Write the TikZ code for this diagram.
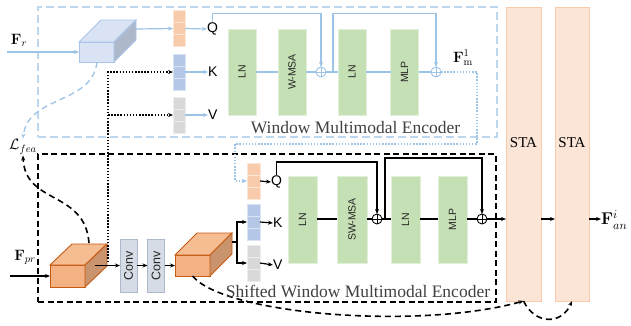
\RequirePackage{fix-cm}
\documentclass[tikz,border=0pt]{standalone}
\usepackage[no-math]{fontspec}
\setmainfont{Liberation Serif}
\setsansfont{Liberation Sans}
\usetikzlibrary{arrows.meta,calc}
\definecolor{lb}{HTML}{9DC3E6}
\definecolor{lbbox}{HTML}{BDD7EE}
\definecolor{qfill}{HTML}{F8CBAD}
\definecolor{qdraw}{HTML}{FBE5D6}
\definecolor{kfill}{HTML}{B4C7E7}
\definecolor{kdraw}{HTML}{DAE3F3}
\definecolor{vfill}{HTML}{D9D9D9}
\definecolor{vdraw}{HTML}{EDEDED}
\definecolor{gfill}{HTML}{C5E0B4}
\definecolor{gdraw}{HTML}{E2F0D9}
\definecolor{convfill}{HTML}{D6DCE5}
\definecolor{convdraw}{HTML}{ADB9CA}
\definecolor{stafill}{HTML}{FBE5D6}
\definecolor{stadraw}{HTML}{F8CBAD}
\definecolor{cbfront}{HTML}{DAE3F3}
\definecolor{cbside}{HTML}{ADB9CA}
\definecolor{cbdraw}{HTML}{A9C4EB}
\definecolor{cofront}{HTML}{F4B183}
\definecolor{cotop}{HTML}{F6BC92}
\definecolor{coside}{HTML}{C9936D}
\definecolor{codraw}{HTML}{C55A11}
\definecolor{txtgray}{HTML}{404040}
\begin{document}
\begin{tikzpicture}[x=1pt,y=-1pt,
  tip/.style={-{Stealth[length=5pt,width=4pt]}},
  blueln/.style={draw=lb, line width=1.2pt},
  blackln/.style={draw=black, line width=1.2pt},
  bdotted/.style={line width=1.4pt, dash pattern=on 1.5pt off 1.6pt},
  bdashed/.style={line width=1.6pt, dash pattern=on 6pt off 4pt},
  cell/.style={minimum width=12pt, minimum height=12pt, inner sep=0pt, outer sep=0pt, line width=0.8pt},
  qcell/.style={cell, fill=qfill, draw=qdraw},
  kcell/.style={cell, fill=kfill, draw=kdraw},
  vcell/.style={cell, fill=vfill, draw=vdraw},
  qkv/.style={anchor=west, inner sep=0pt, font=\sffamily\fontsize{14}{15}\selectfont},
  greenbox/.style={fill=gfill, draw=gdraw, line width=0.8pt, inner sep=0pt, outer sep=0pt,
    minimum width=28pt, minimum height=86pt, font=\sffamily\fontsize{10.5}{12}\selectfont, text=black!85},
  convbox/.style={fill=convfill, draw=convdraw, line width=0.8pt, inner sep=0pt, outer sep=0pt,
    minimum width=17pt, minimum height=53pt, font=\sffamily\fontsize{12.5}{14}\selectfont, text=black!85},
  oplus/.style={circle, draw=#1, fill=white, line width=0.9pt, minimum size=10pt, inner sep=0pt, outer sep=0pt,
    path picture={\draw[#1, line width=0.9pt] (path picture bounding box.north) -- (path picture bounding box.south)
      (path picture bounding box.west) -- (path picture bounding box.east);}},
  stabox/.style={fill=stafill, draw=stadraw, line width=0.8pt, inner sep=0pt, outer sep=0pt, minimum height=294pt},
  statext/.style={font=\fontsize{15}{17}\selectfont},
  enctext/.style={font=\fontsize{17.5}{20}\selectfont, text=txtgray, inner sep=0pt},
  mathlbl/.style={font=\fontsize{15}{17}\selectfont, inner sep=1pt},
  bluecube/.style={fill=cbfront, draw=cbdraw, line width=0.8pt, inner sep=0pt, outer sep=0pt, minimum width=35pt, minimum height=20pt},
  orangecube/.style={fill=cofront, draw=codraw, line width=0.9pt, inner sep=0pt, outer sep=0pt, minimum width=35pt},
]
\useasboundingbox (0,0) rectangle (631,325);

% encoder frames
\node[draw=lbbox, line width=2.2pt, dash pattern=on 8pt off 4pt, minimum width=459pt, minimum height=130pt, inner sep=0pt] (encA) at (267.5,72) {};
\node[draw=black, line width=2.2pt, dash pattern=on 6pt off 3.5pt, minimum width=458pt, minimum height=148pt, inner sep=0pt] (encB) at (267,228) {};

% STA blocks
\node[stabox, minimum width=35pt] (sta1) at (523.5,154) {};
\node[stabox, minimum width=34pt] (sta2) at (572,154) {};
\node[statext] (sta1t) at (523.5,143) {STA};
\node[statext] (sta2t) at (572,143) {STA};

% ---------- top encoder ----------
\node[bluecube] (c1) at (96.5,52) {};
\draw[draw=cbdraw, fill=cbfront, line width=0.8pt] (c1.north west) -- ++(22,-22) -- ++(35,0) -- (c1.north east) -- cycle;
\draw[draw=cbdraw, fill=cbside, line width=0.8pt] (c1.north east) -- ++(22,-22) -- ++(0,20) -- (c1.south east) -- cycle;
\coordinate (frs) at (7,52);
\coordinate (c1r) at (136,29);
\coordinate (c1b) at (97,62);
\node[mathlbl] (Fr) at (19,40) {$\mathbf{F}_r$};
\draw[blueln, tip] (frs) -- (c1.west);

\node[qcell] (qt1) at (179,16.5) {};
\node[qcell] (qt2) at (179,28.5) {};
\node[qcell] (qt3) at (179,40.5) {};
\node[kcell] (kt1) at (179,60) {};
\node[kcell] (kt2) at (179,72) {};
\node[kcell] (kt3) at (179,84) {};
\node[vcell] (vt1) at (179,103) {};
\node[vcell] (vt2) at (179,115) {};
\node[vcell] (vt3) at (179,127) {};
\node[qkv] (Qt) at (207,29) {Q};
\node[qkv] (Kt) at (208,72) {K};
\node[qkv] (Vt) at (208,115) {V};
\draw[blueln, tip] (c1r) -- (qt2.west);
\draw[blueln, tip] (qt2.east) -- (Qt.west);
\draw[blueln, tip] (kt2.east) -- (Kt.west);
\draw[blueln, tip] (vt2.east) -- (Vt.west);

\node[greenbox] (lnt1) at (242,72) {\rotatebox{90}{LN}};
\node[greenbox] (wt) at (292,72) {\rotatebox{90}{W-MSA}};
\node[oplus=lb] (pt1) at (321,72) {};
\node[greenbox] (lnt2) at (352,72) {\rotatebox{90}{LN}};
\node[greenbox] (mt) at (404.5,72) {\rotatebox{90}{MLP}};
\node[oplus=lb] (pt2) at (436,72) {};
\draw[blueln] (lnt1.east) -- (wt.west);
\draw[blueln] (wt.east) -- (pt1.west);
\draw[blueln] (pt1.east) -- (lnt2.west);
\draw[blueln] (lnt2.east) -- (mt.west);
\draw[blueln] (mt.east) -- (pt2.west);
\coordinate (rt1) at (213,13.5);
\coordinate (rt2b) at (333,72);
\draw[blueln, tip] ($(Qt.north)+(0,-1)$) -- (Qt.north |- rt1) -| (pt1.north);
\draw[blueln, tip] (rt2b) -- (rt2b |- rt1) -| (pt2.north);
\node[inner sep=0pt, font=\fontsize{15}{17}\selectfont] (Fm) at (463,58) {$\mathbf{F}_{\mathrm{m}}^{1}$};

% light-blue dashed to L_fea
\node[mathlbl] (lfea) at (23,147) {$\mathcal{L}_{fea}$};
\draw[lb, line width=1.3pt, dash pattern=on 6pt off 4pt, tip] (c1b) .. controls (92,105) and (28,95) .. (lfea.north);

% ---------- bottom encoder ----------
\node[orangecube, minimum height=22pt] (cb1) at (67.5,276) {};
\draw[draw=codraw, fill=cotop, line width=0.9pt] (cb1.north west) -- ++(22,-21) -- ++(35,0) -- (cb1.north east) -- cycle;
\draw[draw=codraw, fill=coside, line width=0.9pt] (cb1.north east) -- ++(22,-21) -- ++(0,22) -- (cb1.south east) -- cycle;
\node[orangecube, minimum height=21pt] (cb2) at (192.5,265.5) {};
\draw[draw=codraw, fill=cotop, line width=0.9pt] (cb2.north west) -- ++(22,-22) -- ++(35,0) -- (cb2.north east) -- cycle;
\draw[draw=codraw, fill=coside, line width=0.9pt] (cb2.north east) -- ++(22,-22) -- ++(0,21) -- (cb2.south east) -- cycle;

\node[convbox] (conv1) at (128.5,265.5) {\rotatebox{90}{Conv}};
\node[convbox] (conv2) at (156,265.5) {\rotatebox{90}{Conv}};

\coordinate (fprs) at (10,276);
\coordinate (cb1s) at (95,265.5);
\coordinate (cb1t) at (89,243);
\coordinate (dt) at (108,262);
\coordinate (cb2r) at (232,242);
\coordinate (br) at (237,242);
\node[mathlbl] (Fpr) at (25,257) {$\mathbf{F}_{pr}$};
\draw[blackln, tip] (fprs) -- (cb1.west);
\draw[blackln, tip] (cb1s) -- (conv1.west);
\draw[blackln, tip] (conv1.east) -- (conv2.west);
\draw[blackln, tip] (conv2.east) -- (cb2.west);

\node[qcell, minimum width=13pt] (qb1) at (253.5,169) {};
\node[qcell, minimum width=13pt] (qb2) at (253.5,181) {};
\node[qcell, minimum width=13pt] (qb3) at (253.5,193) {};
\node[kcell, minimum width=13pt] (kb1) at (253.5,210) {};
\node[kcell, minimum width=13pt] (kb2) at (253.5,222) {};
\node[kcell, minimum width=13pt] (kb3) at (253.5,234) {};
\node[vcell, minimum width=13pt] (vb1) at (253.5,251) {};
\node[vcell, minimum width=13pt] (vb2) at (253.5,263) {};
\node[vcell, minimum width=13pt] (vb3) at (253.5,275) {};
\node[qkv] (Qb) at (271,182) {Q};
\node[qkv] (Kb) at (273,223) {K};
\node[qkv] (Vb) at (273,265) {V};
\draw[blackln, tip] (qb2.east) -- (Qb.west);
\draw[blackln, tip] (kb2.east) -- (Kb.west);
\draw[blackln, tip] (vb2.east) -- (Vb.west);
\draw[blackln] (cb2r) -- (br);
\draw[blackln, tip] (br) |- (kb2.west);
\draw[blackln, tip] (br) |- (vb2.west);

\node[greenbox, minimum width=29pt, minimum height=87pt] (lnb1) at (302.5,219.5) {\rotatebox{90}{LN}};
\node[greenbox, minimum width=30pt, minimum height=87pt] (swb) at (352,219.5) {\rotatebox{90}{SW-MSA}};
\node[oplus=black] (pb1) at (377,219) {};
\node[greenbox, minimum width=29pt, minimum height=87pt] (lnb2) at (405.5,219.5) {\rotatebox{90}{LN}};
\node[greenbox, minimum width=29pt, minimum height=87pt] (mb) at (452.5,219.5) {\rotatebox{90}{MLP}};
\node[oplus=black] (pb2) at (482,219) {};
\draw[blackln] (lnb1.east |- pb1) -- (swb.west |- pb1);
\draw[blackln] (swb.east |- pb1) -- (pb1.west);
\draw[blackln] (pb1.east) -- (lnb2.west |- pb1);
\draw[blackln] (lnb2.east |- pb1) -- (mb.west |- pb1);
\draw[blackln] (mb.east |- pb1) -- (pb2.west);
\coordinate (rb1) at (278,162);
\coordinate (rb2) at (385,219);
\coordinate (rb2t) at (385,158);
\draw[blackln, tip] ($(Qb.north)+(0,-1)$) -- (Qb.north |- rb1) -| (pb1.north);
\draw[blackln, tip] (rb2) -- (rb2t) -| (pb2.north);

\draw[blackln, tip] (pb2.east) -- (pb2.east -| sta1.west);
\draw[blackln, tip] (sta1.east |- pb2) -- (sta2.west |- pb2);
\node[font=\fontsize{17}{19}\selectfont, anchor=west, inner sep=0pt] (Fan) at (601,220) {$\mathbf{F}_{an}^{i}$};
\draw[blackln, tip] (sta2.east |- pb2) -- (Fan.west |- pb2);

% dotted connectors
\coordinate (fm1) at (477,72);
\coordinate (fm2) at (235,144);
\draw[lb, bdotted, line width=1.2pt, tip] (pt2.east) -- (fm1) |- (fm2) |- (qb2.west);
\draw[black, bdotted, tip] (dt) |- (kt2.west);
\draw[black, bdotted, tip] (dt |- vt2.west) -- (vt2.west);

% dashed curves
\draw[black, bdashed, tip] (cb1t) .. controls (85,190) and (25,205) .. (lfea.south);
\draw[black, bdashed, tip] (cb2.south) .. controls (225,315) and (420,330) .. (sta1.south);
\draw[black, bdashed, tip] (sta1.south) .. controls (535,325) and (562,325) .. (sta2.south);

% titles
\node[enctext] (tA) at (355.5,127.5) {Window Multimodal Encoder};
\node[enctext] (tB) at (358,291.5) {Shifted Window Multimodal Encoder};
\end{tikzpicture}
\end{document}
